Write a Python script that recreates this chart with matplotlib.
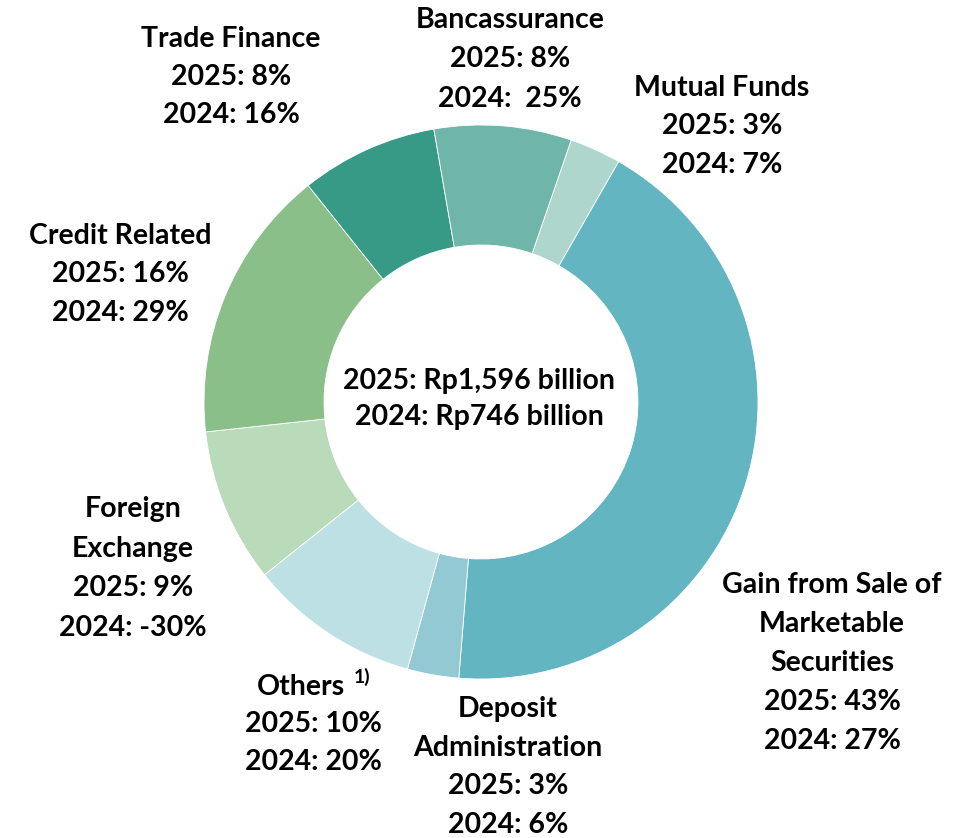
import matplotlib.pyplot as plt

# fee income composition, 2025 share (%) per segment, clockwise from Mutual Funds
segments = ["Mutual Funds", "Gain from Sale of Marketable Securities", "Deposit Administration",
            "Others", "Foreign Exchange", "Credit Related", "Trade Finance", "Bancassurance"]
share_2025 = [3, 43, 3, 10, 9, 16, 8, 8]
share_2024 = ["7%", "27%", "6%", "20%", "-30%", "29%", "16%", " 25%"]
colors = ['#aed6cd', '#63b5c1', '#92c9d3', '#bde0e5', '#badbb9', '#8abf8a', '#369a87', '#6fb5aa']
name_lines = [["Mutual Funds"], ["Gain from Sale of", "Marketable", "Securities"],
              ["Deposit", "Administration"], ["Others"], ["Foreign", "Exchange"],
              ["Credit Related"], ["Trade Finance"], ["Bancassurance"]]
center_lines = ["2025: Rp1,596 billion", "2024: Rp746 billion"]

# label placement in image pixels: (center x, first line center y, line step)
label_pos = [(722, 86, 38.5), (832, 583, 39), (508, 707, 38.5), (313, 685, 37.5),
             (133, 507, 39.5), (120, 234, 38.5), (231, 37, 38), (510, 18, 39.5)]

W, H = 974, 838
fig = plt.figure(figsize=(W / 100, H / 100), dpi=100)
ax = fig.add_axes([0, 0, 1, 1])

ax.pie(share_2025, colors=colors, startangle=71, counterclock=False,
       center=(481, H - 402), radius=277,
       wedgeprops=dict(width=120, linewidth=0.6, edgecolor='white'))

# pie() resets the limits, so set the pixel frame afterwards
ax.set_xlim(0, W)
ax.set_ylim(0, H)
ax.set_aspect('equal')
ax.axis('off')

font = dict(family=['Lato', 'DejaVu Sans'], fontweight='bold', fontsize=20.5, color='black')

for i, lines in enumerate(name_lines):
    x, y0, step = label_pos[i]
    all_lines = lines + [f"2025: {share_2025[i]}%", f"2024: {share_2024[i]}"]
    for k, line in enumerate(all_lines):
        yc = y0 + k * step
        xl = x
        if segments[i] == "Others" and k == 0:
            # name plus footnote mark is centred as one line
            xl = x - 12
            ax.text(xl + 53, H - (yc - 2), "1)", ha='left', va='baseline',
                    family=['Lato', 'DejaVu Sans'], fontweight='bold', fontsize=14)
        ax.text(xl, H - (yc + 10), line, ha='center', va='baseline', **font)

for k, line in enumerate(center_lines):
    ax.text(479, H - (379 + k * 36 + 10), line, ha='center', va='baseline', **font)

fig.savefig('out.png', dpi=100)
